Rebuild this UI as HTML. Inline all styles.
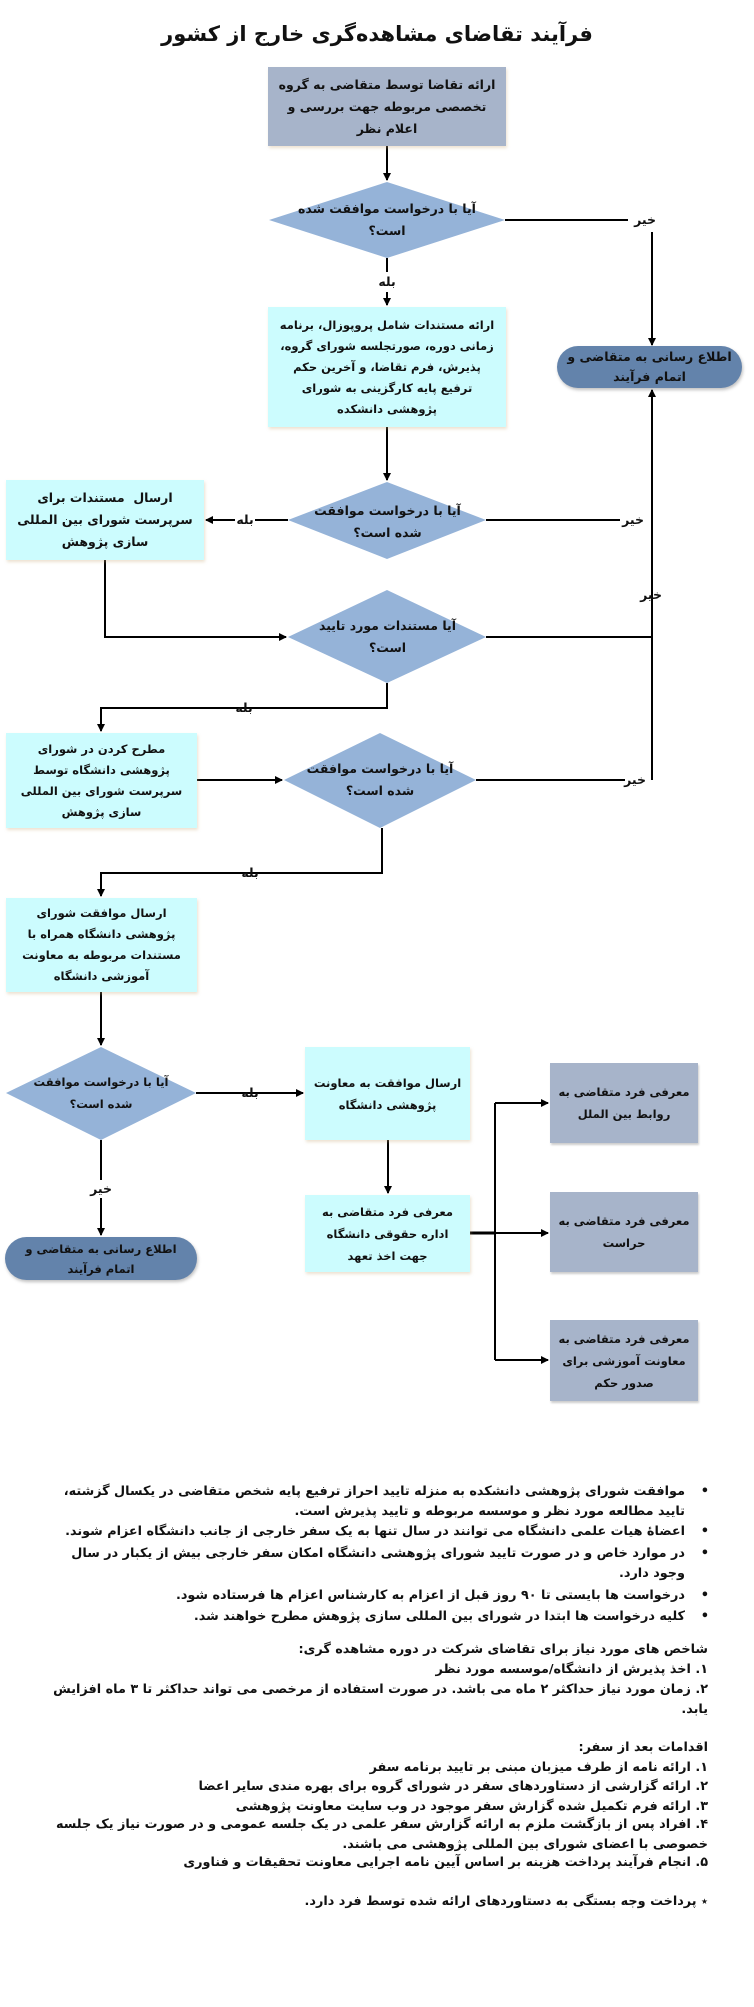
<!DOCTYPE html>
<html><head><meta charset="utf-8">
<style>
html,body{margin:0;padding:0;background:#fff;}
body{width:754px;height:2007px;position:relative;overflow:hidden;font-family:"DejaVu Sans",sans-serif;font-weight:bold;color:#111;}
.a{position:absolute;direction:rtl;text-align:center;display:flex;align-items:center;justify-content:center;font-size:12.5px;line-height:22px;white-space:nowrap;}
.s{font-size:11.5px;}
.b{box-shadow:1px 2px 3px rgba(200,170,120,0.35);}
.g{background:#a7b4ca;}
.c{background:#ccfcfe;}
.o{background:#6383ab;border-radius:22px;box-shadow:1px 2px 3px rgba(0,0,0,0.25);}
.l{position:absolute;font-size:13px;direction:rtl;white-space:nowrap;line-height:20px;}
.t{position:absolute;font-size:12.8px;direction:rtl;white-space:nowrap;line-height:20px;text-align:right;}
</style></head><body>
<div class="a" style="left:0;width:754px;top:18px;height:32px;font-size:21px;">فرآیند تقاضای مشاهده‌گری خارج از کشور</div>

<svg width="754" height="2007" style="position:absolute;left:0;top:0" xmlns="http://www.w3.org/2000/svg">
<defs><marker id="ar" markerWidth="8" markerHeight="8" refX="7" refY="4" orient="auto" markerUnits="userSpaceOnUse"><path d="M0,0 L8,4 L0,8 z" fill="#000"/></marker></defs>
<g fill="#95b3d8">
<polygon points="387,182 505,220 387,258 269,220"/>
<polygon points="387,482 486,520 387,559 288,520"/>
<polygon points="387,590 486,637 387,683 288,637"/>
<polygon points="380,733 476,780 380,828 284,780"/>
<polygon points="101,1047 196,1093 101,1140 6,1093"/>
</g>
<g stroke="#000" stroke-width="2" fill="none">
<line x1="387" y1="146" x2="387" y2="180" marker-end="url(#ar)"/>
<line x1="387" y1="258" x2="387" y2="272"/>
<line x1="387" y1="292" x2="387" y2="305" marker-end="url(#ar)"/>
<line x1="505" y1="220" x2="628" y2="220"/>
<line x1="652" y1="232" x2="652" y2="345" marker-end="url(#ar)"/>
<line x1="652" y1="780" x2="652" y2="390" marker-end="url(#ar)"/>
<line x1="387" y1="427" x2="387" y2="480" marker-end="url(#ar)"/>
<line x1="486" y1="520" x2="620" y2="520"/>
<line x1="288" y1="520" x2="255" y2="520"/>
<line x1="235" y1="520" x2="206" y2="520" marker-end="url(#ar)"/>
<polyline points="105,560 105,637 286,637" marker-end="url(#ar)"/>
<line x1="486" y1="637" x2="652" y2="637"/>
<polyline points="387,683 387,708 101,708 101,731" marker-end="url(#ar)"/>
<line x1="197" y1="780" x2="282" y2="780" marker-end="url(#ar)"/>
<line x1="476" y1="780" x2="625" y2="780"/>
<polyline points="382,828 382,873 101,873 101,896" marker-end="url(#ar)"/>
<line x1="101" y1="992" x2="101" y2="1045" marker-end="url(#ar)"/>
<line x1="196" y1="1093" x2="303" y2="1093" marker-end="url(#ar)"/>
<line x1="388" y1="1140" x2="388" y2="1193" marker-end="url(#ar)"/>
<line x1="101" y1="1140" x2="101" y2="1180"/>
<line x1="101" y1="1198" x2="101" y2="1235" marker-end="url(#ar)"/>
<line x1="470" y1="1233" x2="495" y2="1233" stroke-width="3"/>
<line x1="495" y1="1103" x2="495" y2="1360"/>
<line x1="495" y1="1103" x2="548" y2="1103" marker-end="url(#ar)"/>
<line x1="495" y1="1233" x2="548" y2="1233" marker-end="url(#ar)"/>
<line x1="495" y1="1360" x2="548" y2="1360" marker-end="url(#ar)"/>
</g>
</svg>

<div class="a b g" style="left:268px;top:67px;width:238px;height:79px;">ارائه تقاضا توسط متقاضی به گروه<br>تخصصی مربوطه جهت بررسی و<br>اعلام نظر</div>
<div class="a" style="left:289px;top:200px;width:196px;height:40px;">آیا با درخواست موافقت شده<br>است؟</div>
<div class="a" style="left:630px;top:210px;width:30px;height:20px;">خیر</div>
<div class="a" style="left:372px;top:272px;width:30px;height:20px;">بله</div>
<div class="a o" style="left:557px;top:346px;width:185px;height:42px;line-height:20px;">اطلاع رسانی به متقاضی و<br>اتمام فرآیند</div>
<div class="a b c" style="left:268px;top:307px;width:238px;height:120px;line-height:21px;font-size:11.5px;">ارائه مستندات شامل پروپوزال، برنامه<br>زمانی دوره، صورتجلسه شورای گروه،<br>پذیرش، فرم تقاضا، و آخرین حکم<br>ترفیع پایه کارگزینی به شورای<br>پژوهشی دانشکده</div>

<div class="a" style="left:300px;top:500px;width:175px;height:44px;">آیا با درخواست موافقت<br>شده است؟</div>
<div class="a" style="left:233px;top:510px;width:24px;height:20px;">بله</div>
<div class="a" style="left:618px;top:510px;width:30px;height:20px;">خیر</div>
<div class="a" style="left:636px;top:585px;width:30px;height:20px;">خیر</div>
<div class="a b c" style="left:6px;top:480px;width:198px;height:80px;">ارسال&nbsp; مستندات برای<br>سرپرست شورای بین المللی<br>سازی پژوهش</div>
<div class="a" style="left:300px;top:615px;width:175px;height:44px;">آیا مستندات مورد تایید<br>است؟</div>
<div class="a" style="left:232px;top:698px;width:24px;height:20px;">بله</div>
<div class="a b c s" style="left:6px;top:733px;width:191px;height:95px;line-height:21px;">مطرح کردن در شورای<br>پژوهشی دانشگاه توسط<br>سرپرست شورای بین المللی<br>سازی پژوهش</div>
<div class="a" style="left:294px;top:758px;width:172px;height:44px;">آیا با درخواست موافقت<br>شده است؟</div>
<div class="a" style="left:620px;top:770px;width:30px;height:20px;">خیر</div>
<div class="a" style="left:238px;top:863px;width:24px;height:20px;">بله</div>
<div class="a b c s" style="left:6px;top:898px;width:191px;height:94px;line-height:21px;">ارسال موافقت شورای<br>پژوهشی دانشگاه همراه با<br>مستندات مربوطه به معاونت<br>آموزشی دانشگاه</div>

<div class="a s" style="left:14px;top:1071px;width:174px;height:44px;">آیا با درخواست موافقت<br>شده است؟</div>
<div class="a" style="left:238px;top:1083px;width:24px;height:20px;">بله</div>
<div class="a" style="left:86px;top:1179px;width:30px;height:20px;">خیر</div>
<div class="a o s" style="left:5px;top:1237px;width:192px;height:43px;line-height:20px;">اطلاع رسانی به متقاضی و<br>اتمام فرآیند</div>
<div class="a b c s" style="left:305px;top:1047px;width:165px;height:93px;">ارسال موافقت به معاونت<br>پژوهشی دانشگاه</div>
<div class="a b c s" style="left:305px;top:1195px;width:165px;height:77px;">معرفی فرد متقاضی به<br>اداره حقوقی دانشگاه<br>جهت اخذ تعهد</div>
<div class="a g s" style="left:550px;top:1063px;width:148px;height:80px;box-shadow:1px 2px 2px rgba(0,0,0,0.2);">معرفی فرد متقاضی به<br>روابط بین الملل</div>
<div class="a g s" style="left:550px;top:1192px;width:148px;height:80px;box-shadow:1px 2px 2px rgba(0,0,0,0.2);">معرفی فرد متقاضی به<br>حراست</div>
<div class="a g s" style="left:550px;top:1320px;width:148px;height:81px;box-shadow:1px 2px 2px rgba(0,0,0,0.2);">معرفی فرد متقاضی به<br>معاونت آموزشی برای<br>صدور حکم</div>

<div class="l" style="right:45px;top:1482px;">•</div>
<div class="t" style="right:69px;top:1482px;">موافقت شورای پژوهشی دانشکده به منزله تایید احراز ترفیع پایه شخص متقاضی در یکسال گزشته،</div>
<div class="t" style="right:69px;top:1502px;">تایید مطالعه مورد نظر و موسسه مربوطه و تایید پذیرش است.</div>
<div class="l" style="right:45px;top:1522px;">•</div>
<div class="t" style="right:69px;top:1522px;">اعضاۀ هیات علمی دانشگاه می توانند در سال تنها به یک سفر خارجی از جانب دانشگاه اعزام شوند.</div>
<div class="l" style="right:45px;top:1544px;">•</div>
<div class="t" style="right:69px;top:1544px;">در موارد خاص و در صورت تایید شورای پژوهشی دانشگاه امکان سفر خارجی بیش از یکبار در سال</div>
<div class="t" style="right:69px;top:1564px;">وجود دارد.</div>
<div class="l" style="right:45px;top:1586px;">•</div>
<div class="t" style="right:69px;top:1586px;">درخواست ها بایستی تا ۹۰ روز قبل از اعزام به کارشناس اعزام ها فرستاده شود.</div>
<div class="l" style="right:45px;top:1607px;">•</div>
<div class="t" style="right:69px;top:1607px;">کلیه درخواست ها ابتدا در شورای بین المللی سازی پژوهش مطرح خواهند شد.</div>

<div class="t" style="right:46px;top:1640px;">شاخص های مورد نیاز برای تقاضای شرکت در دوره مشاهده گری:</div>
<div class="t" style="right:46px;top:1660px;">۱. اخذ پذیرش از دانشگاه/موسسه مورد نظر</div>
<div class="t" style="right:46px;top:1680px;">۲. زمان مورد نیاز حداکثر ۲ ماه می باشد. در صورت استفاده از مرخصی می تواند حداکثر تا ۳ ماه افزایش</div>
<div class="t" style="right:46px;top:1700px;">یابد.</div>

<div class="t" style="right:46px;top:1738px;">اقدامات بعد از سفر:</div>
<div class="t" style="right:46px;top:1758px;">۱. ارائه نامه از طرف میزبان مبنی بر تایید برنامه سفر</div>
<div class="t" style="right:46px;top:1777px;">۲. ارائه گزارشی از دستاوردهای سفر در شورای گروه برای بهره مندی سایر اعضا</div>
<div class="t" style="right:46px;top:1797px;">۳. ارائه فرم تکمیل شده گزارش سفر موجود در وب سایت معاونت پژوهشی</div>
<div class="t" style="right:46px;top:1815px;">۴. افراد پس از بازگشت ملزم به ارائه گزارش سفر علمی در یک جلسه عمومی و در صورت نیاز یک جلسه</div>
<div class="t" style="right:46px;top:1835px;">خصوصی با اعضای شورای بین المللی پژوهشی می باشند.</div>
<div class="t" style="right:46px;top:1853px;">۵. انجام فرآیند پرداخت هزینه بر اساس آیین نامه اجرایی معاونت تحقیقات و فناوری</div>

<div class="t" style="right:46px;top:1892px;">٭ پرداخت وجه بستگی به دستاوردهای ارائه شده توسط فرد دارد.</div>
</body></html>
